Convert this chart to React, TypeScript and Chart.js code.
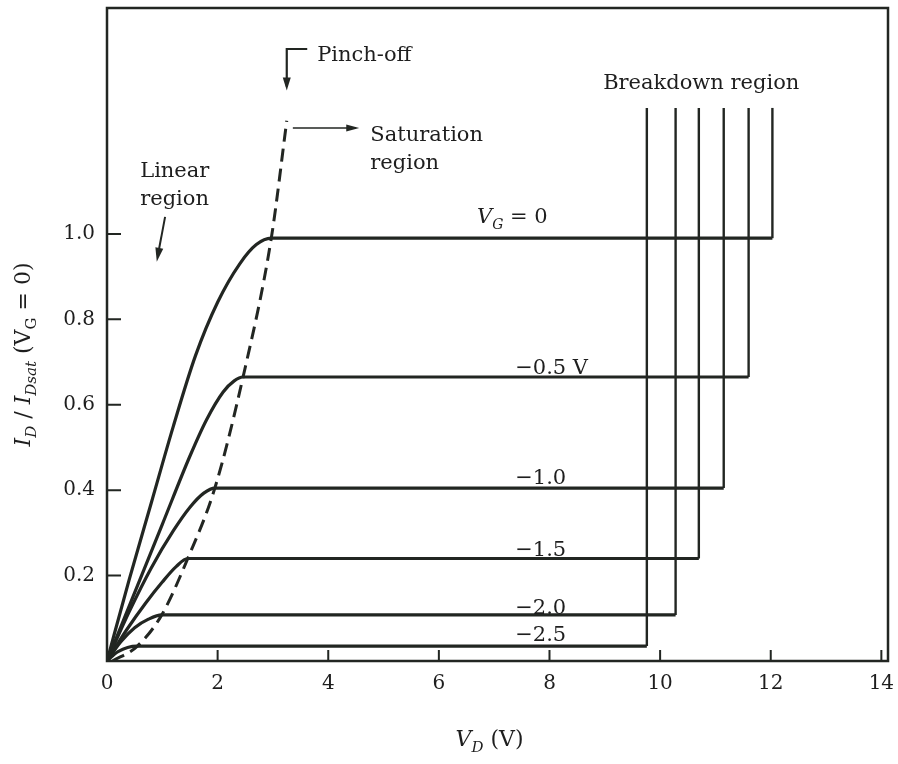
import React, { useEffect, useRef } from "react";
import { Chart, registerables } from "chart.js";

Chart.register(...registerables);

// ---- data ----
const xTicks = [0, 2, 4, 6, 8, 10, 12, 14];
const yTicks = [0.2, 0.4, 0.6, 0.8, 1.0];

// gate-voltage curves: linear-region rise ending at the pinch-off knee
const riseVg0 = [[0, 0], [0.4, 0.19], [0.8, 0.37], [1.2, 0.55], [1.6, 0.715], [2.0, 0.84], [2.4, 0.93], [2.7, 0.975], [2.97, 0.99]];
const riseVgM05 = [[0, 0], [0.5, 0.16], [1.0, 0.32], [1.5, 0.48], [1.8, 0.565], [2.1, 0.63], [2.3, 0.656], [2.46, 0.665]];
const riseVgM10 = [[0, 0], [0.4, 0.115], [0.8, 0.218], [1.2, 0.305], [1.5, 0.36], [1.75, 0.393], [1.95, 0.405]];
const riseVgM15 = [[0, 0], [0.35, 0.072], [0.7, 0.136], [1.0, 0.185], [1.25, 0.221], [1.46, 0.24]];
const riseVgM20 = [[0, 0], [0.25, 0.045], [0.5, 0.078], [0.75, 0.098], [0.99, 0.108]];
const riseVgM25 = [[0, 0], [0.2, 0.022], [0.54, 0.035]];

// breakdown voltage of each curve, and the top of the breakdown lines
const breakdownV = [12.03, 11.6, 11.15, 10.7, 10.28, 9.76];
const breakdownTop = 1.295;

// pinch-off locus (dashed)
const pinchOff = [[0.1, 0], [0.55, 0.035], [0.99, 0.108], [1.46, 0.24], [1.95, 0.405], [2.46, 0.665], [2.97, 0.99], [3.25, 1.265]];

const curves = [riseVg0, riseVgM05, riseVgM10, riseVgM15, riseVgM20, riseVgM25];

// ---- styling / layout ----
const INK = "#222622";
const FONT = "DejaVu Serif";
const TXT = 21;

type Part = { t: string; it?: boolean; sub?: boolean };

function drawRich(ctx: CanvasRenderingContext2D, parts: Part[], x: number, y: number, size: number, align: "left" | "center") {
  const fontOf = (p: Part) => `${p.it ? "italic " : ""}${p.sub ? Math.round(size * 0.68) : size}px "${FONT}"`;
  let total = 0;
  for (const p of parts) {
    ctx.font = fontOf(p);
    total += ctx.measureText(p.t).width;
  }
  let cx = align === "center" ? x - total / 2 : x;
  ctx.textAlign = "left";
  ctx.textBaseline = "alphabetic";
  for (const p of parts) {
    ctx.font = fontOf(p);
    ctx.fillText(p.t, cx, p.sub ? y + size * 0.28 : y);
    cx += ctx.measureText(p.t).width;
  }
}

function arrowHead(ctx: CanvasRenderingContext2D, x1: number, y1: number, x2: number, y2: number, len: number, half: number) {
  const a = Math.atan2(y2 - y1, x2 - x1);
  ctx.beginPath();
  ctx.moveTo(x2, y2);
  ctx.lineTo(x2 - len * Math.cos(a) + half * Math.sin(a), y2 - len * Math.sin(a) - half * Math.cos(a));
  ctx.lineTo(x2 - len * Math.cos(a) - half * Math.sin(a), y2 - len * Math.sin(a) + half * Math.cos(a));
  ctx.closePath();
  ctx.fill();
}

// text annotations (in data units)
const notes: { parts: Part[]; x: number; y: number }[] = [
  { parts: [{ t: "Pinch-off" }], x: 3.8, y: 1.405 },
  { parts: [{ t: "Saturation" }], x: 4.76, y: 1.218 },
  { parts: [{ t: "region" }], x: 4.76, y: 1.152 },
  { parts: [{ t: "Linear" }], x: 0.6, y: 1.133 },
  { parts: [{ t: "region" }], x: 0.6, y: 1.068 },
  { parts: [{ t: "Breakdown region" }], x: 8.97, y: 1.34 },
  { parts: [{ t: "V", it: true }, { t: "G", it: true, sub: true }, { t: " = 0" }], x: 6.69, y: 1.025 },
  { parts: [{ t: "\u22120.5 V" }], x: 7.38, y: 0.672 },
  { parts: [{ t: "\u22121.0" }], x: 7.38, y: 0.415 },
  { parts: [{ t: "\u22121.5" }], x: 7.38, y: 0.246 },
  { parts: [{ t: "\u22122.0" }], x: 7.38, y: 0.111 },
  { parts: [{ t: "\u22122.5" }], x: 7.38, y: 0.046 },
];

const decor = {
  id: "decor",
  afterDatasetsDraw(chart: any) {
    const { ctx, chartArea: a, scales } = chart;
    const xs = scales.x;
    const ys = scales.y;
    const X = (v: number) => xs.getPixelForValue(v);
    const Y = (v: number) => ys.getPixelForValue(v);
    ctx.save();
    ctx.strokeStyle = INK;
    ctx.fillStyle = INK;
    ctx.lineCap = "butt";
    // frame
    ctx.lineWidth = 2.5;
    ctx.strokeRect(a.left, a.top, a.right - a.left, a.bottom - a.top);
    // inward ticks
    ctx.lineWidth = 2;
    ctx.beginPath();
    for (const t of xTicks) {
      const px = X(t);
      ctx.moveTo(px, a.bottom);
      ctx.lineTo(px, a.bottom - 11);
    }
    for (const t of yTicks) {
      const py = Y(t);
      ctx.moveTo(a.left, py);
      ctx.lineTo(a.left + 14, py);
    }
    ctx.stroke();

    // arrows
    ctx.lineWidth = 2.2;
    // pinch-off bent arrow
    ctx.beginPath();
    ctx.moveTo(X(3.62), Y(1.433));
    ctx.lineTo(X(3.25), Y(1.433));
    ctx.lineTo(X(3.25), Y(1.345));
    ctx.stroke();
    arrowHead(ctx, X(3.25), Y(1.433), X(3.25), Y(1.336), 13, 4);
    // saturation arrow
    ctx.lineWidth = 1.5;
    ctx.beginPath();
    ctx.moveTo(X(3.36), Y(1.248));
    ctx.lineTo(X(4.5), Y(1.248));
    ctx.stroke();
    arrowHead(ctx, X(3.36), Y(1.248), X(4.56), Y(1.248), 13, 3.5);
    // linear arrow
    ctx.lineWidth = 2;
    ctx.beginPath();
    ctx.moveTo(X(1.05), Y(1.04));
    ctx.lineTo(X(0.92), Y(0.95));
    ctx.stroke();
    arrowHead(ctx, X(1.05), Y(1.04), X(0.9), Y(0.935), 14, 4);

    // annotation text
    ctx.fillStyle = "#1e1e1e";
    for (const n of notes) drawRich(ctx, n.parts, X(n.x), Y(n.y), TXT, "left");

    // axis titles
    drawRich(ctx, [{ t: "V", it: true }, { t: "D", it: true, sub: true }, { t: " (V)" }], (a.left + a.right) / 2 - 8, 746, 22, "center");
    ctx.save();
    ctx.translate(30, (a.top + a.bottom) / 2 + 20);
    ctx.rotate(-Math.PI / 2);
    drawRich(
      ctx,
      [
        { t: "I", it: true },
        { t: "D", it: true, sub: true },
        { t: " / " },
        { t: "I", it: true },
        { t: "Dsat", it: true, sub: true },
        { t: " (V" },
        { t: "G", sub: true },
        { t: " = 0)" },
      ],
      0,
      0,
      22,
      "center"
    );
    ctx.restore();
    ctx.restore();
  },
};

const zeroPad = (s: any) => {
  s.paddingLeft = 0;
  s.paddingRight = 0;
  s.paddingTop = 0;
  s.paddingBottom = 0;
};

export default function App() {
  const ref = useRef<HTMLCanvasElement>(null);

  useEffect(() => {
    const toPts = (arr: number[][]) => arr.map(([x, y]) => ({ x, y }));
    const datasets: any[] = [];
    curves.forEach((rise, i) => {
      const knee = rise[rise.length - 1];
      datasets.push({
        data: toPts([...rise, [breakdownV[i], knee[1]]]),
        borderColor: INK,
        borderWidth: 3.2,
        pointRadius: 0,
        cubicInterpolationMode: "monotone",
        fill: false,
      });
      datasets.push({
        data: toPts([[breakdownV[i], knee[1]], [breakdownV[i], breakdownTop]]),
        borderColor: INK,
        borderWidth: 2.4,
        pointRadius: 0,
        tension: 0,
        fill: false,
      });
    });
    datasets.push({
      data: toPts(pinchOff),
      borderColor: INK,
      borderWidth: 3,
      borderDash: [13, 7],
      pointRadius: 0,
      cubicInterpolationMode: "monotone",
      fill: false,
    });

    const chart = new Chart(ref.current!, {
      type: "line",
      data: { datasets },
      options: {
        responsive: false,
        animation: false,
        events: [],
        layout: { padding: { left: 0, top: 8, right: 10, bottom: 0 } },
        plugins: { legend: { display: false }, tooltip: { enabled: false }, title: { display: false } },
        scales: {
          x: {
            type: "linear",
            min: 0,
            max: 14.12,
            grid: { display: false, drawTicks: false },
            border: { display: false },
            afterFit: (s: any) => {
              s.height = 103;
              zeroPad(s);
            },
            afterBuildTicks: (s: any) => {
              s.ticks = xTicks.map((v) => ({ value: v }));
            },
            ticks: {
              padding: 11,
              color: "#1e1e1e",
              font: { family: FONT, size: 20 },
              maxRotation: 0,
              callback: (v: any) => String(v),
            },
          },
          y: {
            type: "linear",
            min: 0,
            max: 1.529,
            grid: { display: false, drawTicks: false },
            border: { display: false },
            afterFit: (s: any) => {
              s.width = 107;
              zeroPad(s);
            },
            afterBuildTicks: (s: any) => {
              s.ticks = yTicks.map((v) => ({ value: v }));
            },
            ticks: {
              padding: 12,
              color: "#1e1e1e",
              font: { family: FONT, size: 20 },
              callback: (v: any) => Number(v).toFixed(1),
            },
          },
        },
      },
      plugins: [decor],
    });
    return () => chart.destroy();
  }, []);

  return (
    <div style={{ position: "absolute", left: 0, top: 0, width: 898, height: 764, background: "#fff" }}>
      <canvas ref={ref} width={898} height={764} style={{ display: "block", width: 898, height: 764 }} />
    </div>
  );
}
